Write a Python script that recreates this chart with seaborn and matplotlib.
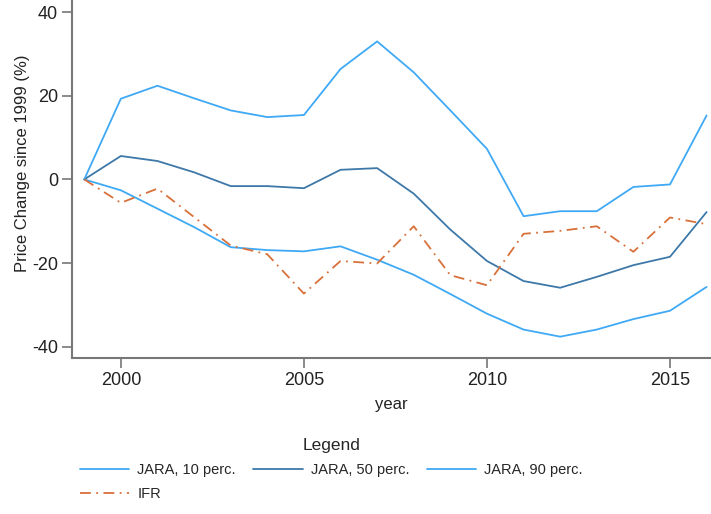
import matplotlib
matplotlib.use("Agg")
import matplotlib.pyplot as plt
import seaborn as sns
import pandas as pd

years = list(range(1999, 2017))
p10 = [0, -2.6, -7.0, -11.4, -16.2, -16.9, -17.2, -16.0, -19.2, -22.8, -27.4, -32.1, -35.9, -37.6, -35.9, -33.4, -31.4, -25.7]
p50 = [0, 5.6, 4.4, 1.7, -1.6, -1.6, -2.1, 2.3, 2.7, -3.4, -12.0, -19.5, -24.3, -25.9, -23.3, -20.5, -18.5, -7.8]
p90 = [0, 19.3, 22.4, 19.4, 16.5, 14.9, 15.4, 26.4, 33.0, 25.6, 16.5, 7.3, -8.8, -7.6, -7.6, -1.8, -1.2, 15.3]
ifr = [0, -5.6, -2.2, -9.0, -15.8, -17.9, -27.3, -19.5, -20.1, -11.2, -22.9, -25.3, -13.0, -12.3, -11.2, -17.3, -9.1, -10.7]
labels = ["JARA, 10 perc.", "JARA, 50 perc.", "JARA, 90 perc.", "IFR"]
yticks = [-40, -20, 0, 20, 40]
xticks = [2000, 2005, 2010, 2015]

sns.set_style("white")
plt.rcParams['font.family'] = ['Liberation Sans', 'DejaVu Sans']
plt.rcParams['axes.unicode_minus'] = False

fig = plt.figure(figsize=(7.11, 5.14), dpi=100)
ax = fig.add_axes([0.101, 0.3035, 0.899, 0.6965])

light = "#3fa9f5"
dark = "#3d78a9"
orange = "#d8703a"

df = pd.DataFrame({"year": years, "p10": p10, "p50": p50, "p90": p90, "ifr": ifr})
sns.lineplot(data=df, x="year", y="p10", ax=ax, color=light, lw=1.3, label=labels[0])
sns.lineplot(data=df, x="year", y="p50", ax=ax, color=dark, lw=1.3, label=labels[1])
sns.lineplot(data=df, x="year", y="p90", ax=ax, color=light, lw=1.3, label=labels[2])
sns.lineplot(data=df, x="year", y="ifr", ax=ax, color=orange, lw=1.3, label=labels[3],
             linestyle=(0, (6, 3, 1, 3)))

ax.set_xlim(1998.66, 2016.12)
ax.set_ylim(-42.7, 42.9)
ax.set_xticks(xticks)
ax.set_yticks(yticks)
ax.set_xticklabels([str(t) for t in xticks])
ax.set_yticklabels([str(t) for t in yticks])
ax.tick_params(axis="both", which="major", bottom=True, left=True, direction="out",
               length=7, width=1.2, color="#777777", labelsize=13,
               labelcolor="#222222", pad=3)
for s in ["top", "right"]:
    ax.spines[s].set_visible(False)
for s in ["left", "bottom"]:
    ax.spines[s].set_color("#777777")
    ax.spines[s].set_linewidth(1.5)
ax.set_xlabel("year", fontsize=12, color="#222222", labelpad=6)
ax.set_ylabel("Price Change since 1999 (%)", fontsize=12, color="#222222")
ax.yaxis.set_label_coords(-0.066, 0.545)

handles, labs = ax.get_legend_handles_labels()
ax.get_legend().remove()
order = [0, 3, 1, 2]
leg = fig.legend([handles[i] for i in order], [labs[i] for i in order],
                 loc="upper center", bbox_to_anchor=(0.466, 0.168), ncol=3,
                 title="Legend", fontsize=10.5, title_fontsize=12.5, frameon=False,
                 handlelength=3.4, handletextpad=0.55, columnspacing=1.2,
                 labelspacing=0.7, borderpad=0.2)

fig.savefig("out.png", dpi=100)
